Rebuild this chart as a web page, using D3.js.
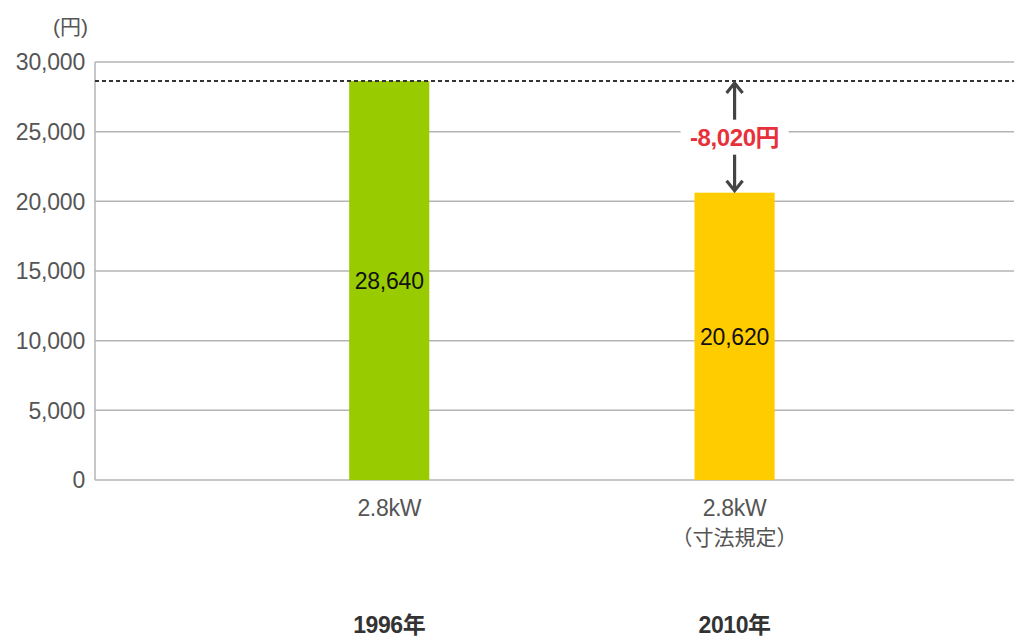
<!DOCTYPE html>
<html>
<head>
<meta charset="utf-8">
<script src="https://cdn.jsdelivr.net/npm/d3@7/dist/d3.min.js"></script>
<style>
  html, body { margin: 0; padding: 0; background: #fff; }
  svg text { font-family: "Liberation Sans", "Noto Sans CJK JP", sans-serif; }
</style>
</head>
<body>
<svg id="chart" width="1014" height="639"></svg>
<script>
// Electricity cost per year by model year
const years = ["1996年", "2010年"];
const capacities = ["2.8kW", "2.8kW"];
const notes = ["", "（寸法規定）"];
const costs = [28640, 20620];
const barColors = ["#99cc00", "#ffcc00"];
const yTicks = [0, 5000, 10000, 15000, 20000, 25000, 30000];
const unitLabel = "(円)";

const svg = d3.select("#chart");
const W = 1014;
const plotLeft = 95, plotTop = 62, plotBottom = 480;

const y = d3.scaleLinear().domain([0, 30000]).range([plotBottom, plotTop]);
const x = d3.scaleBand()
  .domain(years)
  .range([plotLeft, W])
  .paddingInner(0.768)
  .paddingOuter(0.7145)
  .align(0.515);

const fmt = d3.format(",");

// horizontal grid lines
svg.append("g").selectAll("line")
  .data(yTicks)
  .join("line")
  .attr("x1", plotLeft).attr("x2", W)
  .attr("y1", d => y(d)).attr("y2", d => y(d))
  .attr("stroke", "#b4b4b4")
  .attr("stroke-width", 1.5);

// vertical axis line
svg.append("line")
  .attr("x1", plotLeft).attr("x2", plotLeft)
  .attr("y1", y(30000)).attr("y2", y(0))
  .attr("stroke", "#b4b4b4").attr("stroke-width", 1.5);

// y tick labels
svg.append("g").selectAll("text")
  .data(yTicks)
  .join("text")
  .attr("x", plotLeft - 10)
  .attr("y", d => y(d))
  .attr("dy", "0.36em")
  .attr("text-anchor", "end")
  .attr("font-size", 23)
  .attr("letter-spacing", -0.2)
  .attr("fill", "#555")
  .text(d => fmt(d));

svg.append("text")
  .attr("x", 88).attr("y", 34)
  .attr("text-anchor", "end")
  .attr("font-size", 21)
  .attr("fill", "#555")
  .text(unitLabel);

// bars
svg.append("g").selectAll("rect")
  .data(costs)
  .join("rect")
  .attr("x", (d, i) => x(years[i]))
  .attr("width", x.bandwidth())
  .attr("y", d => y(d))
  .attr("height", d => y(0) - y(d))
  .attr("fill", (d, i) => barColors[i]);

// value labels inside bars
svg.append("g").selectAll("text")
  .data(costs)
  .join("text")
  .attr("x", (d, i) => x(years[i]) + x.bandwidth() / 2)
  .attr("y", d => (y(d) + y(0)) / 2)
  .attr("dy", "0.36em")
  .attr("text-anchor", "middle")
  .attr("font-size", 23)
  .attr("letter-spacing", -0.2)
  .attr("fill", "#111")
  .text(d => fmt(d));

// reference line at the 1996 level
svg.append("line")
  .attr("x1", plotLeft).attr("x2", W)
  .attr("y1", y(costs[0])).attr("y2", y(costs[0]))
  .attr("stroke", "#333")
  .attr("stroke-width", 2)
  .attr("stroke-dasharray", "4,3");

// difference annotation
const cx = x(years[1]) + x.bandwidth() / 2;
const yHigh = y(costs[0]), yLow = y(costs[1]);
const diff = costs[1] - costs[0];
const midY = y(25000) + 6;
const arrowColor = "#444";

svg.append("rect")
  .attr("x", cx - 54).attr("y", midY - 16)
  .attr("width", 108).attr("height", 30)
  .attr("fill", "#fff");

const arrows = svg.append("g")
  .attr("stroke", arrowColor)
  .attr("stroke-width", 3.2)
  .attr("fill", "none")
  .attr("stroke-linecap", "butt");

arrows.append("line")
  .attr("x1", cx).attr("x2", cx)
  .attr("y1", yHigh + 2).attr("y2", midY - 18);
arrows.append("path")
  .attr("d", `M${cx - 8},${yHigh + 12} L${cx},${yHigh + 2} L${cx + 8},${yHigh + 12}`);

arrows.append("line")
  .attr("x1", cx).attr("x2", cx)
  .attr("y1", midY + 17).attr("y2", yLow - 2);
arrows.append("path")
  .attr("d", `M${cx - 8},${yLow - 12} L${cx},${yLow - 2} L${cx + 8},${yLow - 12}`);

svg.append("text")
  .attr("x", cx).attr("y", midY)
  .attr("dy", "0.36em")
  .attr("text-anchor", "middle")
  .attr("font-size", 24)
  .attr("font-weight", "bold")
  .attr("letter-spacing", -0.4)
  .attr("fill", "#e8303a")
  .text(fmt(diff).replace("−", "-") + "円");

// category labels
const cat = svg.append("g").attr("text-anchor", "middle");
years.forEach((yr, i) => {
  const c = x(yr) + x.bandwidth() / 2;
  cat.append("text")
    .attr("x", c).attr("y", 516)
    .attr("font-size", 23).attr("letter-spacing", -0.3)
    .attr("fill", "#555")
    .text(capacities[i]);
  if (notes[i]) {
    cat.append("text")
      .attr("x", c).attr("y", 545)
      .attr("font-size", 21)
      .attr("fill", "#555")
      .text(notes[i]);
  }
  cat.append("text")
    .attr("x", c).attr("y", 633)
    .attr("font-size", 23)
    .attr("font-weight", "bold")
    .attr("letter-spacing", -0.4)
    .attr("fill", "#333")
    .text(yr);
});
</script>
</body>
</html>
